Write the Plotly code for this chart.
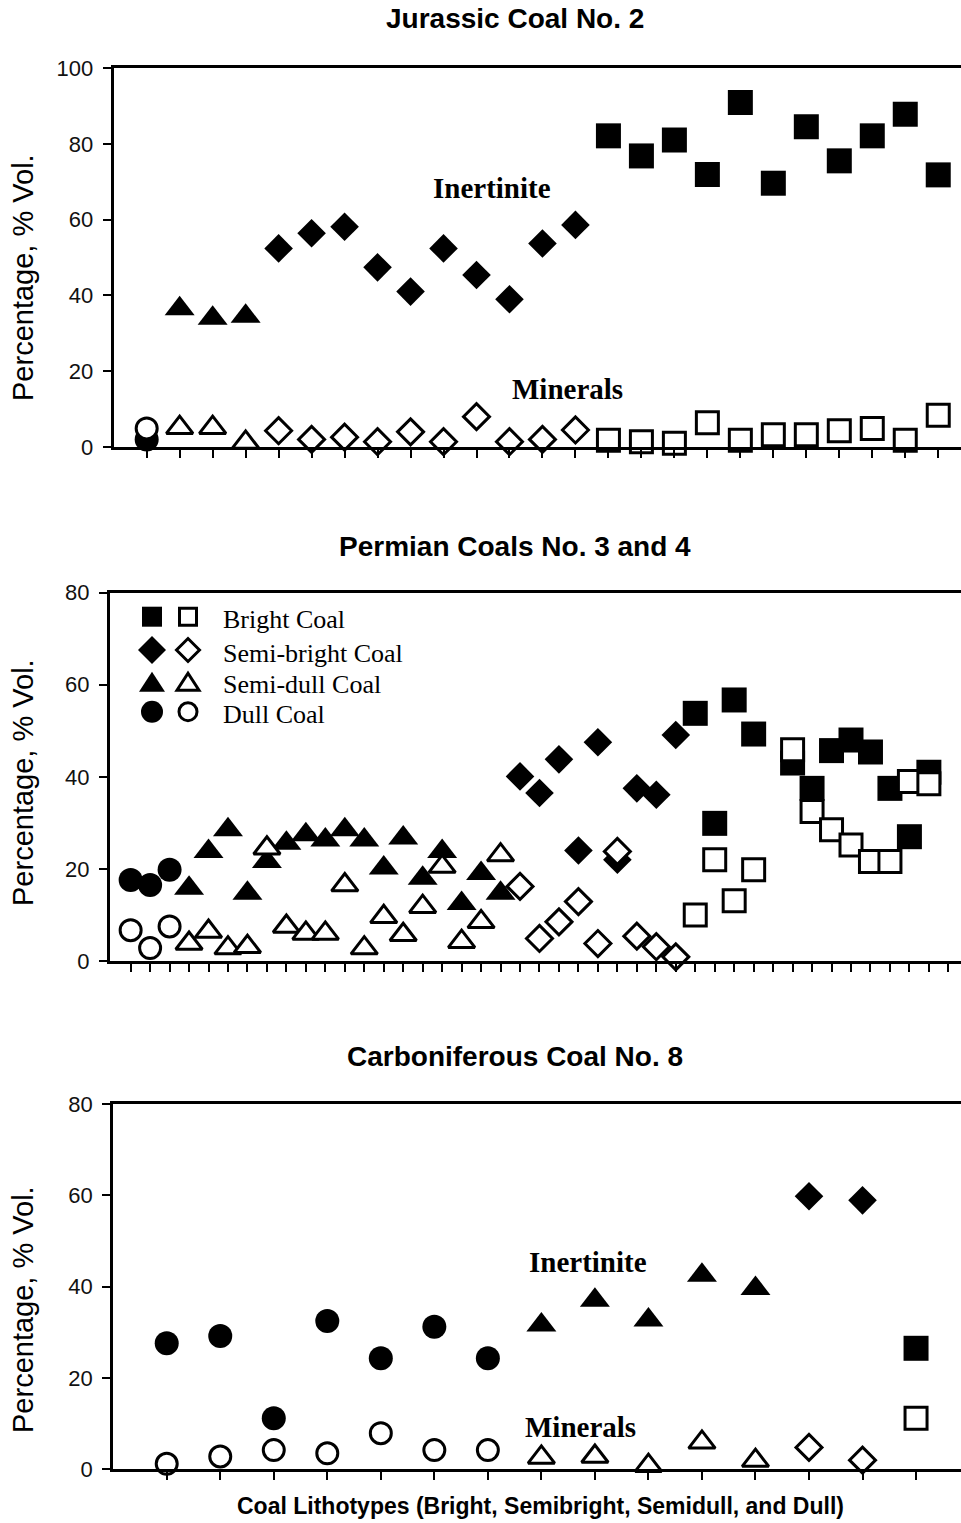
import plotly.graph_objects as go

W, H = 961, 1523

# ---------------- Data ----------------
# Panel 1: Jurassic Coal No. 2 (25 samples)
j_dull_x = [1]
j_dull_inert = [2.0]
j_dull_min = [4.9]
j_sdull_x = [2, 3, 4]
j_sdull_inert = [36.5, 34.0, 34.5]
j_sdull_min = [5.1, 5.1, 1.2]
j_sbright_x = [5, 6, 7, 8, 9, 10, 11, 12, 13, 14]
j_sbright_inert = [52.4, 56.4, 58.1, 47.4, 41.0, 52.4, 45.4, 39.0, 53.7, 58.6]
j_sbright_min = [4.3, 2.0, 2.6, 1.4, 4.0, 1.4, 8.0, 1.4, 2.0, 4.5]
j_bright_x = [15, 16, 17, 18, 19, 20, 21, 22, 23, 24, 25]
j_bright_inert = [82.1, 76.8, 81.0, 71.9, 90.9, 69.6, 84.5, 75.5, 82.1, 87.8, 71.8]
j_bright_min = [1.8, 1.4, 1.0, 6.4, 1.8, 3.2, 3.2, 4.3, 4.9, 1.8, 8.4]

# Panel 2: Permian Coals No. 3 and 4 (43 tick positions)
p_dull_x = [1, 2, 3]
p_dull_inert = [17.6, 16.5, 19.8]
p_dull_min = [6.7, 2.8, 7.5]
p_sdull_x = [4, 5, 6, 7, 8, 9, 10, 11, 12, 13, 14, 15, 16, 17, 18, 19, 20]
p_sdull_inert = [15.8, 23.8, 28.5, 14.7, 21.6, 25.6, 27.4, 26.3, 28.5, 26.3,
                 20.2, 26.7, 18.0, 23.8, 12.5, 19.0, 14.7]
p_sdull_min = [3.8, 6.4, 2.8, 3.1, 24.5, 7.5, 6.0, 6.0, 16.5, 2.8,
               9.6, 5.7, 11.8, 20.5, 4.2, 8.5, 23.0]
p_sbright_x = [21, 22, 23, 24, 25, 26, 27, 28, 29]
p_sbright_inert = [40.1, 36.5, 43.8, 24.0, 47.5, 22.0, 37.5, 36.1, 49.1]
p_sbright_min = [16.2, 4.9, 8.5, 12.9, 3.8, 23.8, 5.4, 3.1, 0.9]
p_bright_x = [30, 31, 32, 33, 35, 36, 37, 38, 39, 40, 41, 42]
p_bright_inert = [53.8, 29.9, 56.7, 49.3, 43.0, 37.5, 45.7, 48.0, 45.4, 37.5, 27.0, 41.0]
p_bright_min = [10.0, 22.0, 13.1, 19.8, 45.9, 32.5, 28.5, 25.2, 21.6, 21.6, 39.0, 38.5]

# Panel 3: Carboniferous Coal No. 8 (15 samples)
c_dull_x = [1, 2, 3, 4, 5, 6, 7]
c_dull_inert = [27.6, 29.2, 11.2, 32.5, 24.3, 31.2, 24.3]
c_dull_min = [1.2, 2.8, 4.2, 3.5, 7.9, 4.2, 4.2]
c_sdull_x = [8, 9, 10, 11, 12]
c_sdull_inert = [31.6, 37.0, 32.7, 42.5, 39.6]
c_sdull_min = [2.6, 2.8, 0.8, 5.9, 1.9]
c_sbright_x = [13, 14]
c_sbright_inert = [59.8, 58.9]
c_sbright_min = [4.8, 2.0]
c_bright_x = [15]
c_bright_inert = [26.5]
c_bright_min = [11.2]

titles = ["Jurassic Coal No. 2", "Permian Coals No. 3 and 4", "Carboniferous Coal No. 8"]
y_title = "Percentage, % Vol."
x_title = "Coal Lithotypes (Bright, Semibright, Semidull, and Dull)"
legend_labels = ["Bright Coal", "Semi-bright Coal", "Semi-dull Coal", "Dull Coal"]

# ---------------- Styling ----------------
SANS = "Arial, Liberation Sans, sans-serif"
SERIF = "Times New Roman, Liberation Serif, serif"

SYM = {"bright": "square", "sbright": "diamond", "sdull": "triangle-up", "dull": "circle"}
FILLED_SIZE = {"bright": 25, "sbright": 22, "sdull": 26, "dull": 24}
OPEN_SIZE = {"bright": 22, "sbright": 20, "sdull": 23, "dull": 21}


def py(p):
    return 1 - p / H


panels = [
    dict(data={"dull": (j_dull_x, j_dull_inert, j_dull_min),
               "sdull": (j_sdull_x, j_sdull_inert, j_sdull_min),
               "sbright": (j_sbright_x, j_sbright_inert, j_sbright_min),
               "bright": (j_bright_x, j_bright_inert, j_bright_min)},
         ntick=25, xr=[0, 25.69], yr=[0, 100], xdom=[113.7 / W, 1], ydom=[py(447), py(68)]),
    dict(data={"dull": (p_dull_x, p_dull_inert, p_dull_min),
               "sdull": (p_sdull_x, p_sdull_inert, p_sdull_min),
               "sbright": (p_sbright_x, p_sbright_inert, p_sbright_min),
               "bright": (p_bright_x, p_bright_inert, p_bright_min)},
         ntick=43, xr=[-0.06, 43.65], yr=[0, 80], xdom=[110 / W, 1], ydom=[py(961), py(592.7)]),
    dict(data={"dull": (c_dull_x, c_dull_inert, c_dull_min),
               "sdull": (c_sdull_x, c_sdull_inert, c_sdull_min),
               "sbright": (c_sbright_x, c_sbright_inert, c_sbright_min),
               "bright": (c_bright_x, c_bright_inert, c_bright_min)},
         ntick=15, xr=[0, 15.84], yr=[0, 80], xdom=[113.2 / W, 1], ydom=[py(1469.3), py(1104)]),
]

fig = go.Figure()
layout = dict(width=W, height=H, margin=dict(l=0, r=0, t=0, b=0, autoexpand=False),
              autosize=False,
              paper_bgcolor="white", plot_bgcolor="white", showlegend=False)

for i, p in enumerate(panels):
    sfx = "" if i == 0 else str(i + 1)
    xa, ya = "x" + sfx, "y" + sfx
    # filled (inertinite) first, then open (minerals) on top
    for kind in ["dull", "sdull", "sbright", "bright"]:
        xs, inert, mins = p["data"][kind]
        fig.add_trace(go.Scatter(x=xs, y=inert, mode="markers", xaxis=xa, yaxis=ya,
                                 cliponaxis=False,
                                 marker=dict(symbol=SYM[kind], size=FILLED_SIZE[kind], color="black",
                                             line=dict(width=0))))
    for kind in ["dull", "sdull", "sbright", "bright"]:
        xs, inert, mins = p["data"][kind]
        fig.add_trace(go.Scatter(x=xs, y=mins, mode="markers", xaxis=xa, yaxis=ya,
                                 cliponaxis=False,
                                 marker=dict(symbol=SYM[kind], size=OPEN_SIZE[kind], color="white",
                                             line=dict(width=3, color="black"))))
    layout["xaxis" + sfx] = dict(domain=p["xdom"], range=p["xr"], anchor=ya,
                                 tickmode="array", tickvals=list(range(1, p["ntick"] + 1)),
                                 ticks="outside", ticklen=8, tickwidth=2, tickcolor="black",
                                 showticklabels=False, showgrid=False, zeroline=False,
                                 showline=True, linewidth=3, linecolor="black", mirror=True)
    layout["yaxis" + sfx] = dict(domain=p["ydom"], range=p["yr"], anchor=xa,
                                 tick0=0, dtick=20, ticks="outside", ticklen=8, tickwidth=2,
                                 tickcolor="black", ticklabelstandoff=5,
                                 tickfont=dict(family=SANS, size=22, color="#111111"),
                                 showgrid=False, zeroline=False,
                                 showline=True, linewidth=3, linecolor="black")

fig.update_layout(**layout)

ann = []
# Panel titles
for t, yc in zip(titles, [19, 546, 1056]):
    ann.append(dict(text="<b>%s</b>" % t, x=515 / W, y=py(yc), xref="paper", yref="paper",
                    xanchor="center", yanchor="middle", showarrow=False,
                    font=dict(family=SANS, size=28, color="black")))
# y-axis titles
for yc in [278, 783, 1310]:
    ann.append(dict(text=y_title, x=23 / W, y=py(yc), xref="paper", yref="paper",
                    xanchor="center", yanchor="middle", textangle=-90, showarrow=False,
                    font=dict(family=SANS, size=29, color="black")))
# x-axis title
ann.append(dict(text="<b>%s</b>" % x_title, x=540 / W, y=py(1506), xref="paper", yref="paper",
                xanchor="center", yanchor="middle", showarrow=False,
                font=dict(family=SANS, size=23, color="black")))
# In-plot labels
for txt, xx, yy, xr, yr in [("Inertinite", 11.47, 68.3, "x", "y"),
                            ("Minerals", 13.76, 15.3, "x", "y"),
                            ("Inertinite", 8.87, 45.5, "x3", "y3"),
                            ("Minerals", 8.74, 9.2, "x3", "y3")]:
    ann.append(dict(text="<b>%s</b>" % txt, x=xx, y=yy, xref=xr, yref=yr,
                    xanchor="center", yanchor="middle", showarrow=False,
                    font=dict(family=SERIF, size=29, color="black")))

# Legend (panel 2) built from shapes + text
shapes = []
rows = [616.7, 650, 681.7, 711.7]
fx, ox = 152 / W, 188 / W


def pixshape(kind, xc, yc, filled):
    base = dict(xref="paper", yref="paper", xsizemode="pixel", ysizemode="pixel",
                xanchor=xc, yanchor=yc,
                fillcolor="black" if filled else "white",
                line=dict(color="black", width=0 if filled else 3))
    if kind == "bright":
        s = 10 if filled else 8.5
        base.update(type="rect", x0=-s, x1=s, y0=-s, y1=s)
    elif kind == "dull":
        s = 11 if filled else 9
        base.update(type="circle", x0=-s, x1=s, y0=-s, y1=s)
    elif kind == "sbright":
        s = 14 if filled else 11.5
        base.update(type="path", path="M %g,0 L 0,%g L %g,0 L 0,%g Z" % (s, s, -s, -s))
    else:
        w, h = (13, 10) if filled else (11, 8.5)
        base.update(type="path", path="M %g,%g L %g,%g L 0,%g Z" % (-w, -h, w, -h, h))
    return base


for kind, yc, lab in zip(["bright", "sbright", "sdull", "dull"], rows, legend_labels):
    shapes.append(pixshape(kind, fx, py(yc), True))
    shapes.append(pixshape(kind, ox, py(yc), False))
    ann.append(dict(text=lab, x=221 / W, y=py(yc + 3), xref="paper", yref="paper",
                    xanchor="left", yanchor="middle", showarrow=False,
                    font=dict(family=SERIF, size=26, color="black")))

fig.update_layout(annotations=ann, shapes=shapes)
fig.write_html("out.html", config={"responsive": False},
               post_script="document.body.style.margin='0px';document.body.style.padding='0px';")
